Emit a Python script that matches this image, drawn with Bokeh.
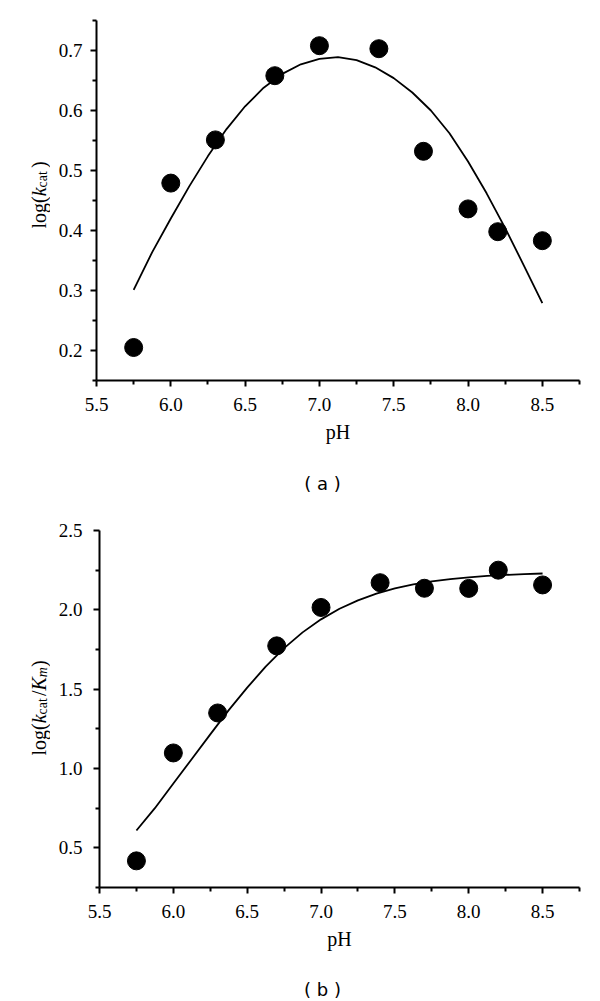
from math import pi
from bokeh.plotting import figure
from bokeh.layouts import column, row
from bokeh.models import Label, FixedTicker, PrintfTickFormatter, Range1d
from bokeh.embed import file_html
from bokeh.resources import INLINE

# ---------------- data ----------------
ph = [5.75, 6.0, 6.3, 6.7, 7.0, 7.4, 7.7, 8.0, 8.2, 8.5]
log_kcat = [0.205, 0.479, 0.551, 0.658, 0.708, 0.703, 0.532, 0.436, 0.398, 0.383]
log_kcat_km = [0.418, 1.098, 1.350, 1.773, 2.015, 2.171, 2.136, 2.135, 2.250, 2.157]

fit_ph = [5.75, 5.875, 6.0, 6.125, 6.25, 6.375, 6.5, 6.625, 6.75, 6.875, 7.0, 7.125,
          7.25, 7.375, 7.5, 7.625, 7.75, 7.875, 8.0, 8.125, 8.25, 8.375, 8.5]
fit_kcat = [0.301, 0.364, 0.420, 0.474, 0.524, 0.569, 0.607, 0.638, 0.661, 0.677, 0.686, 0.689,
            0.684, 0.672, 0.654, 0.630, 0.600, 0.562, 0.515, 0.462, 0.404, 0.342, 0.279]
fit_kcat_km = [0.609, 0.750, 0.905, 1.060, 1.215, 1.368, 1.510, 1.642, 1.759, 1.858, 1.940, 2.007,
               2.060, 2.102, 2.135, 2.160, 2.179, 2.194, 2.205, 2.214, 2.220, 2.225, 2.229]

x_major = [5.5, 6.0, 6.5, 7.0, 7.5, 8.0, 8.5]
x_minor = [5.75, 6.25, 6.75, 7.25, 7.75, 8.25, 8.75]
ya_major = [0.2, 0.3, 0.4, 0.5, 0.6, 0.7]
ya_minor = [0.15, 0.25, 0.35, 0.45, 0.55, 0.65, 0.75]
yb_major = [0.5, 1.0, 1.5, 2.0, 2.5]
yb_minor = [0.25, 0.75, 1.25, 1.75, 2.25]

SERIF = "Liberation Serif"


def blank(w, h):
    f = figure(width=w, height=h, output_backend="svg", toolbar_location=None,
               x_range=Range1d(0, w), y_range=Range1d(0, h),
               x_axis_location=None, y_axis_location=None,
               min_border_left=0, min_border_right=0, min_border_top=0, min_border_bottom=0)
    f.xgrid.visible = False
    f.ygrid.visible = False
    f.outline_line_color = None
    return f


def ylabel_fig(h, pieces, base_x, start_y):
    # start_y is measured from the bottom of the (row-aligned) frame
    f = blank(50, h)
    pos = start_y
    for txt, style, size, shift, adv in pieces:
        f.add_layout(Label(x=base_x + shift, y=pos, x_units="screen", y_units="screen",
                           text=txt, angle=pi / 2,
                           text_align="left", text_baseline="alphabetic",
                           text_font=SERIF, text_font_size=f"{size}px",
                           text_font_style=style, text_color="black"))
        pos += adv
    return f


def caption_fig(h, tag, cx, cy):
    f = blank(600, h)
    f.add_layout(Label(x=cx, y=cy, x_units="screen", y_units="screen",
                       text="( " + tag + " )", text_align="center",
                       text_baseline="middle", text_font="DejaVu Sans",
                       text_font_size="18px", text_color="black"))
    return f


def panel(yvals, fitvals, yr, ymaj, ymin, height, bl, br, bt, bb, ystand):
    p = figure(width=550, height=height, output_backend="svg", toolbar_location=None,
               x_range=Range1d(5.5, 8.75), y_range=Range1d(*yr),
               min_border_left=bl, min_border_right=br, min_border_top=bt, min_border_bottom=bb)
    p.outline_line_color = None
    p.xgrid.visible = False
    p.ygrid.visible = False

    p.line(fit_ph, fitvals, line_color="black", line_width=1.8)
    p.scatter(ph, yvals, size=18, marker="circle", fill_color="black", line_color="black")

    for ax in (p.xaxis[0], p.yaxis[0]):
        ax.axis_line_width = 2
        ax.axis_line_color = "black"
        ax.major_tick_line_width = 2
        ax.minor_tick_line_width = 2
        ax.major_tick_in = 0
        ax.major_tick_out = 6
        ax.minor_tick_in = 0
        ax.minor_tick_out = 4
        ax.major_label_text_font = SERIF
        ax.major_label_text_font_size = "19px"
        ax.major_label_text_color = "black"
        ax.formatter = PrintfTickFormatter(format="%.1f")

    p.xaxis.ticker = FixedTicker(ticks=x_major, minor_ticks=x_minor)
    p.yaxis.ticker = FixedTicker(ticks=ymaj, minor_ticks=ymin)
    p.xaxis.major_label_standoff = 11
    p.yaxis.major_label_standoff = ystand

    p.xaxis.axis_label = "pH"
    p.xaxis.axis_label_text_font = SERIF
    p.xaxis.axis_label_text_font_size = "20px"
    p.xaxis.axis_label_text_font_style = "normal"
    p.xaxis.axis_label_text_color = "black"
    p.xaxis.axis_label_standoff = 7
    return p


pieces_a = [("log(", "normal", 20, 0, 32.2), ("k", "italic", 20, 0, 8.9),
            ("cat", "normal", 14, 4, 19.3), (")", "normal", 20, 0, 7)]
pieces_b = [("log(", "normal", 20, 0, 32.2), ("k", "italic", 20, 0, 8.9),
            ("cat", "normal", 14, 4, 18.3), ("/", "normal", 20, 0, 5.6),
            ("K", "italic", 20, 0, 13.3), ("m", "italic", 14, 4, 10.1), (")", "normal", 20, 0, 7)]

pa = panel(log_kcat, fit_kcat, (0.15, 0.75), ya_major, ya_minor, 460, 46, 21, 20, 80, 8)
la = ylabel_fig(460, pieces_a, 38, 152)
ca = caption_fig(45, "a", 322, 22)

pb = panel(log_kcat_km, fit_kcat_km, (0.25, 2.5), yb_major, yb_minor, 455, 49, 21, 25, 73, 11)
lb = ylabel_fig(455, pieces_b, 38, 132)
cb = caption_fig(40, "b", 322, 11)

layout = column(row(la, pa, spacing=0), ca, row(lb, pb, spacing=0), cb, spacing=0)
open("out.html", "w").write(file_html(layout, INLINE))
